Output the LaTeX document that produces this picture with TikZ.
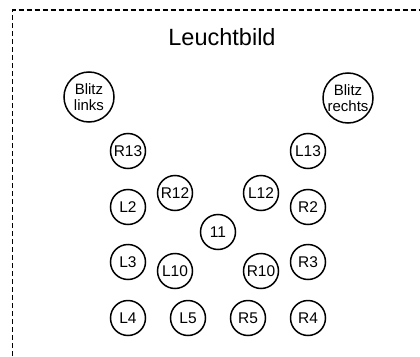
\documentclass[tikz,border=0pt]{standalone}
\usepackage{fontspec}
\setmainfont{Liberation Sans}
\usepackage{tikz}

\begin{document}
\begin{tikzpicture}[x=1pt, y=-1pt, draw=black]
        \tikzstyle{lamp}=[circle,draw=black,minimum size=35pt,inner sep=0pt,line width=1.5pt,font=\fontsize{15.5}{16}\selectfont]
        \tikzstyle{blitz}=[lamp,minimum size=50pt,align=center,font=\fontsize{15}{15.5}\selectfont]

        \useasboundingbox (0,0) rectangle (420,356);

        % Dashed frame of the panel
        \draw[line width=1.5pt, dash pattern=on 5pt off 3pt] (12.5,356) -- (12.5,10) -- (420,10);

        % Title
        \node[font=\fontsize{23.5}{25}\selectfont] (title) at (222,37) {Leuchtbild};

        % Draw the flash lamps
        \node[blitz] (B-links) at (89,97) {Blitz\\links};
        \node[blitz] (B-rechts) at (348,98) {Blitz\\rechts};

        % Draw the lamps of the picture
        \foreach \name / \x / \y in {R13/128/151, L13/308/151, R12/175/193, L12/261/193,
                                    L2/128/207, R2/308/207, 11/218/232,
                                    L3/128/262, L10/175/271, R10/261/271, R3/308/262,
                                    L4/128/318, L5/188/318, R5/248/318, R4/308/318}
            \node[lamp] (N-\name) at (\x,\y) {\name};
\end{tikzpicture}
\end{document}
